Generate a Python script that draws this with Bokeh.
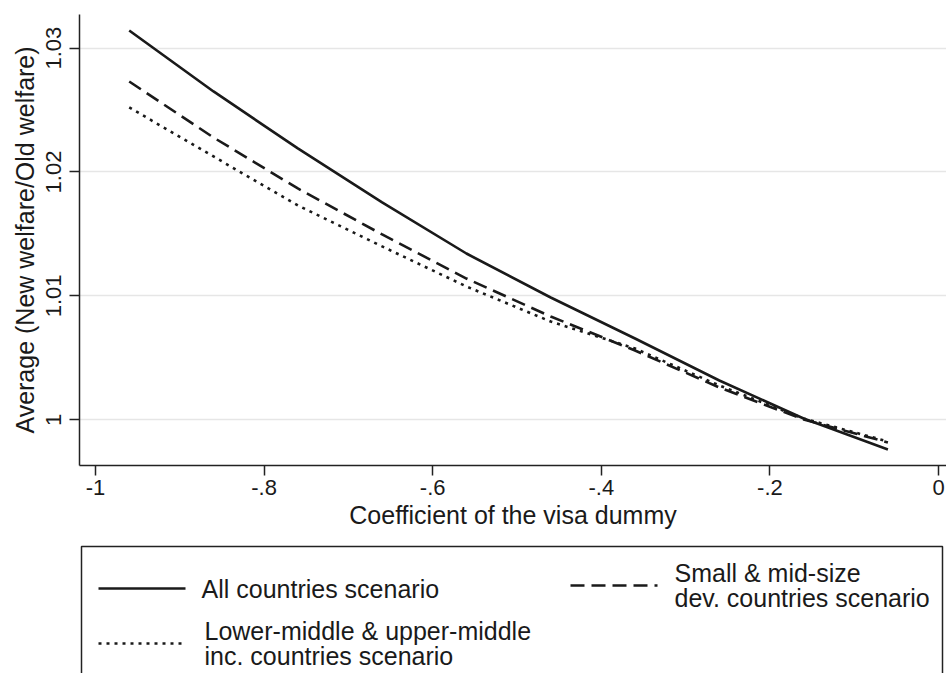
from bokeh.plotting import figure
from bokeh.models import Range1d, FixedTicker
from bokeh.layouts import column
from bokeh.core.properties import value
from bokeh.embed import file_html
from bokeh.resources import INLINE

# ---- data ----
visa_coef = [-0.96, -0.86, -0.76, -0.66, -0.56, -0.46, -0.36, -0.26, -0.16, -0.06]
all_countries = [1.03142, 1.02650, 1.02190, 1.01754, 1.01342, 1.00987, 1.00656, 1.00317, 1.00010, 0.99760]
small_mid = [1.02730, 1.02278, 1.01867, 1.01496, 1.01140, 1.00834, 1.00559, 1.00261, 1.00002, 0.99817]
lower_upper_middle = [1.02521, 1.02125, 1.01730, 1.01399, 1.01076, 1.00793, 1.00575, 1.00277, 1.00010, 0.99825]

x_ticks = [-1, -0.8, -0.6, -0.4, -0.2, 0]
x_tick_labels = ["-1", "-.8", "-.6", "-.4", "-.2", "0"]
y_ticks = [1.0, 1.01, 1.02, 1.03]
y_tick_labels = ["1", "1.01", "1.02", "1.03"]

x_title = "Coefficient of the visa dummy"
y_title = "Average (New welfare/Old welfare)"
legend_labels = [
    "All countries scenario",
    "Small & mid-size\ndev. countries scenario",
    "Lower-middle & upper-middle\ninc. countries scenario",
]

FONT = "Liberation Sans"
INK = "#1a1a1a"
W = 946
H_MAIN = 538
H_LEG = 135

# ---- main plot ----
p = figure(width=W, height=H_MAIN, output_backend="svg", toolbar_location=None,
           x_range=Range1d(-1.01898, 0.00949), y_range=Range1d(0.99631, 1.03271),
           min_border_left=79, min_border_right=0, min_border_top=14, min_border_bottom=73)
p.outline_line_color = None
p.background_fill_color = "white"
p.border_fill_color = "white"

p.xgrid.grid_line_color = None
p.ygrid.grid_line_color = "#e6e6e6"
p.ygrid.grid_line_width = 1.5

for ax in (p.xaxis[0], p.yaxis[0]):
    ax.axis_line_color = "#222222"
    ax.axis_line_width = 1.5
    ax.major_tick_line_color = "#222222"
    ax.major_tick_line_width = 1.5
    ax.major_tick_out = 10
    ax.major_tick_in = 0
    ax.minor_tick_line_color = None
    ax.major_label_text_font = FONT
    ax.major_label_text_font_size = "22px"
    ax.major_label_text_color = INK
    ax.axis_label_text_font = FONT
    ax.axis_label_text_font_size = "25px"
    ax.axis_label_text_font_style = "normal"
    ax.axis_label_text_color = INK

p.xaxis.ticker = FixedTicker(ticks=x_ticks)
p.xaxis.major_label_overrides = dict(zip(x_ticks, x_tick_labels))
p.xaxis.axis_label = x_title
p.xaxis.major_label_standoff = 4
p.xaxis.axis_label_standoff = 3

p.yaxis.ticker = FixedTicker(ticks=y_ticks)
p.yaxis.major_label_overrides = dict(zip(y_ticks, y_tick_labels))
p.yaxis.axis_label = y_title
p.yaxis.major_label_orientation = "vertical"
p.yaxis.major_label_standoff = 8
p.yaxis.axis_label_standoff = 5

line_styles = [
    dict(line_dash="solid"),
    dict(line_dash="14 7"),
    dict(line_dash="3 5"),
]
series = [all_countries, small_mid, lower_upper_middle]
for ys, st in zip(series, line_styles):
    p.line(visa_coef, ys, line_color=INK, line_width=2.6, **st)

# ---- legend panel: its frame is aligned with the main frame (x 79..946),
#      ranges set so that coordinates are page pixels ----
lg = figure(width=W, height=H_LEG, output_backend="svg", toolbar_location=None,
            x_range=Range1d(79, W), y_range=Range1d(H_MAIN + H_LEG, H_MAIN),
            min_border_left=79, min_border_right=0,
            min_border_top=0, min_border_bottom=0)
lg.outline_line_color = None
lg.axis.visible = False
lg.grid.visible = False
lg.background_fill_color = "white"
lg.border_fill_color = "white"

# legend frame (bottom edge lies below the window, as in the reference)
lg.line([81, 81, 942, 942], [700, 546, 546, 700], line_color="#222222", line_width=1.5)

sample_x0 = [98, 570, 98]
sample_y = [588, 585, 643]
label_x = [201, 674, 204]
for i, st in enumerate(line_styles):
    lg.line([sample_x0[i], sample_x0[i] + 87], [sample_y[i], sample_y[i]],
            line_color=INK, line_width=2.6, **st)

lg.text(x=label_x, y=sample_y, text=legend_labels,
        text_font=value(FONT), text_font_size="25px", text_color=INK,
        text_align="left", text_baseline="middle", text_line_height=0.92)

layout = column(p, lg, spacing=0)
open("out.html", "w").write(file_html(layout, INLINE))
